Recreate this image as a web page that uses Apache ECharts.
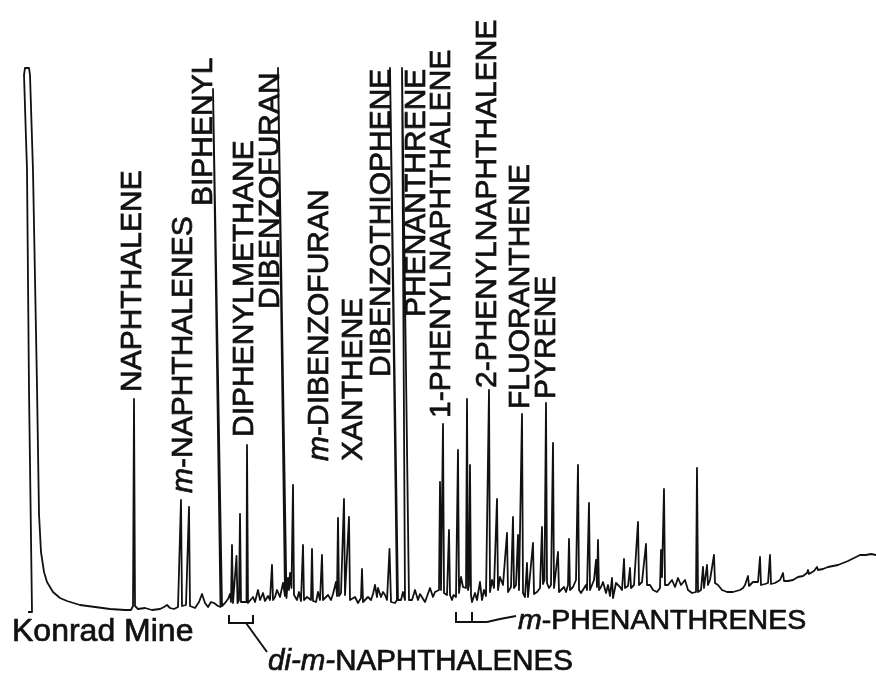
<!DOCTYPE html>
<html>
<head>
<meta charset="utf-8">
<script src="https://cdn.jsdelivr.net/npm/echarts@6/dist/echarts.min.js"></script>
<style>
html,body{margin:0;padding:0;background:#fff;}
#main{width:876px;height:675px;}
</style>
</head>
<body>
<div id="main"></div>
<script>
// Chromatogram trace: [retention (scan units), detector response]
const trace = [
[28,-2],[32,-2],[29,220],[27,440],[24,535],[25,542],[27,544],[29,542],[30,535],[33,439],[37,224],[39,96],[41,58],[44,38],[47,28],[53,18],[60,12],[67,9],[80,5],[95,3],[110,1],[125,0],[131,0],
[133,4],[134,211],[135,4],[138,1],[145,2],[152,0],[160,1],[164,3],[167,5],[170,2],[174,1],[178,3],[180,4],[181,110],[182,4],[186,5],[188,4],[189,103],[190,4],[195,2],[199,8],[202,16],[205,7],[208,3],[211,8],[214,7],[218,4],
[220.5,3],[213,521],[222,4],[225,7],[228,11],[230,16],[231,8],[232,65],[233,7],[235,6],[236.5,54],[237.5,7],[239,10],[240,96],[241,8],[243,6],[246.5,8],[247,165],[248,7],[250,6],[253,13],[255,8],[258,20],[260,10],[263,17],[265,9],[268,14],[270,10],[272,45],[273,10],[275,13],[277,20],[280,13],[283,27],[285,14],
[278,542],[286.5,12],[288,32],[289,20],[290,37],[291.5,22],[293,125],[294,15],[297,10],[299,18],[301,9],[303,65],[304,10],[307,13],[309,15],[311,10],[312,61],[313,9],[316,8],[318,18],[320,10],[322,55],[323,10],[325,10],[328,15],[331,10],[333,16],[335,14],[336,28],[337,14],[338,92],[339,14],[341,17],[344,111],[345,15],[347,14],[349,93],[350,10],[352,10],[355,13],[358,7],[361,12],[362,41],[363,8],[365,8],[368,13],[371,10],[373,16],[375,25],[377,13],[378,22],[381,13],[383,18],[385,15],[387,10],[389.5,61],[391,8],[395,7],[397,10],
[390,542],[398,10],[401,10],[403,18],[405,10],[407,10],[402,542],[409,10],[412,10],[415,20],[418,10],[420,16],[422,15],[425,8],[427,10],[430,22],[433,13],[435,18],[437,18],[439,20],[440,128],[441,20],[442,18],[443,186],[444,17],[447,15],[449,80],[450,15],[452,10],[453.5,15],[456,13],[458,160],[459,17],[461,33],[463,23],[466,22],[467,211],[468,20],[469,25],[470,145],[471,15],[472,8],[475,17],[477,10],[480,28],[482,10],[484,20],[486,14],[488,15],[489,220],[490,18],[492,30],[494,22],[497,111],[498,20],[500,33],[503,25],[505,23],[507,77],[508,18],[511,23],[513,93],[514,22],[516,25],[518,75],[519,20],[521,19],[522,196],[523,17],[525,13],[527,47],[528,13],[530,15],[533,67],[534,16],[537,18],[540,22],[542,83],[543,26],[544.5,30],[546,207],[547,27],[549,22],[551,25],[553,167],[554,22],[556,20],[558,58],[559,18],[561,17],[564,23],[566,18],[568,25],[569,71],[570,20],[573,23],[576,30],[578,145],[579,20],[581,17],[583,18],[586,25],[587,20],[589,107],[590,20],[592,22],[594,30],[596,50],[597,23],[598,70],[599,20],[601,23],[603,28],[606,17],[608,25],[610,14],[612,32],[613,12],[616,27],[620,23],[622,20],[624,51],[625,22],[628,24],[630,42],[631,22],[634,25],[638,88],[639,25],[642,28],[646,66],[647,25],[650,25],[653,20],[657,18],[660,22],[661,60],[662,33],[664,121],[665,25],[668,25],[672,30],[675,23],[678,32],[681,25],[685,30],[688,20],[692,17],[696,18],[697,142],[698,18],[701,20],[703,43],[704,22],[707,45],[708,25],[710,30],[714,55],[715,27],[718,25],[722,20],[727,18],[733,18],[740,20],[743,22],[745,25],[748,34],[749,24],[753,28],[755,26],[758,28],[760,53],[761,25],[765,26],[768,27],[770,55],[771,26],[775,27],[780,30],[783,37],[784,29],[788,29],[793,30],[798,33],[803,34],[807,37],[808,40],[809,36],[814,39],[817,43],[818,40],[823,41],[828,43],[833,44],[838,45],[843,47],[848,49],[852,51],[856,53],[860,55],[866,55],[871,56],[876,55]
];

// Peak labels
const labelNames = ['NAPHTHALENE','{i|m}-NAPHTHALENES','BIPHENYL','DIPHENYLMETHANE','DIBENZOFURAN','{i|m}-DIBENZOFURAN','XANTHENE','DIBENZOTHIOPHENE','PHENANTHRENE','1-PHENYLNAPHTHALENE','2-PHENYLNAPHTHALENE','FLUORANTHENE','PYRENE'];
// label anchors (retention, response) where each label's text begins
const labelAnchors = [[133,218],[184,117],[204,404],[245,173],[271,301],[320,149],[354,149],[382,233],[417,293],[442,192],[488,222],[521,201],[547,211]];

// Group annotations
const sampleName = 'Konrad Mine';
const groupNames = ['{i|di-m-}NAPHTHALENES','{i|m}-PHENANTHRENES'];

const FONT = '"Liberation Sans", Arial, Helvetica, sans-serif';
const INK = '#111';

const chart = echarts.init(document.getElementById('main'), null, {renderer:'canvas'});
chart.setOption({
  animation:false,
  backgroundColor:'#fff',
  grid:{left:0,right:0,top:0,bottom:0,containLabel:false},
  xAxis:{type:'value',min:0,max:876,show:false,splitLine:{show:false}},
  yAxis:{type:'value',min:-65,max:610,show:false,splitLine:{show:false}},
  series:[{
    type:'line',
    data:trace,
    showSymbol:false,
    symbol:'none',
    smooth:false,
    lineStyle:{color:INK,width:1.8,join:'round'},
    silent:true
  }]
});

function px(p){ return chart.convertToPixel({gridIndex:0}, p); }

const elements = [];
function addText(text, anchor, size, rotated){
  const p = px(anchor);
  elements.push({
    type:'text', x:p[0], y:p[1], rotation: rotated ? Math.PI/2 : 0, silent:true,
    style:{
      text:text, fontSize:size, fontFamily:FONT, fill:INK,
      stroke:INK, lineWidth:0.7,
      align:'left', verticalAlign:'middle', textAlign:'left', textVerticalAlign:'middle',
      rich:{i:{fontStyle:'italic', fontSize:size, fontFamily:FONT, fill:INK, stroke:INK, lineWidth:0.7}}
    }
  });
}
labelNames.forEach((t,i)=>addText(t, labelAnchors[i], 30, true));

addText(sampleName, [12,-22], 32, false);
addText(groupNames[0], [268,-52], 29.5, false);
addText(groupNames[1], [518,-11], 28.5, false);

function addLine(pts, w){
  elements.push({type:'polyline', silent:true, shape:{points:pts.map(px)}, style:{stroke:INK, lineWidth:w||2, fill:null}});
}
// di-m-naphthalenes bracket
addLine([[229,-5],[229,-13],[253,-13],[253,-5]]);
addLine([[246,-13],[267,-42]]);
// m-phenanthrenes bracket
addLine([[456,-2],[456,-12],[487,-12]]);
addLine([[472,-2],[472,-12]]);
addLine([[487,-12],[500,-9],[516,-6]]);

chart.setOption({graphic:{elements:elements}});
</script>
</body>
</html>
